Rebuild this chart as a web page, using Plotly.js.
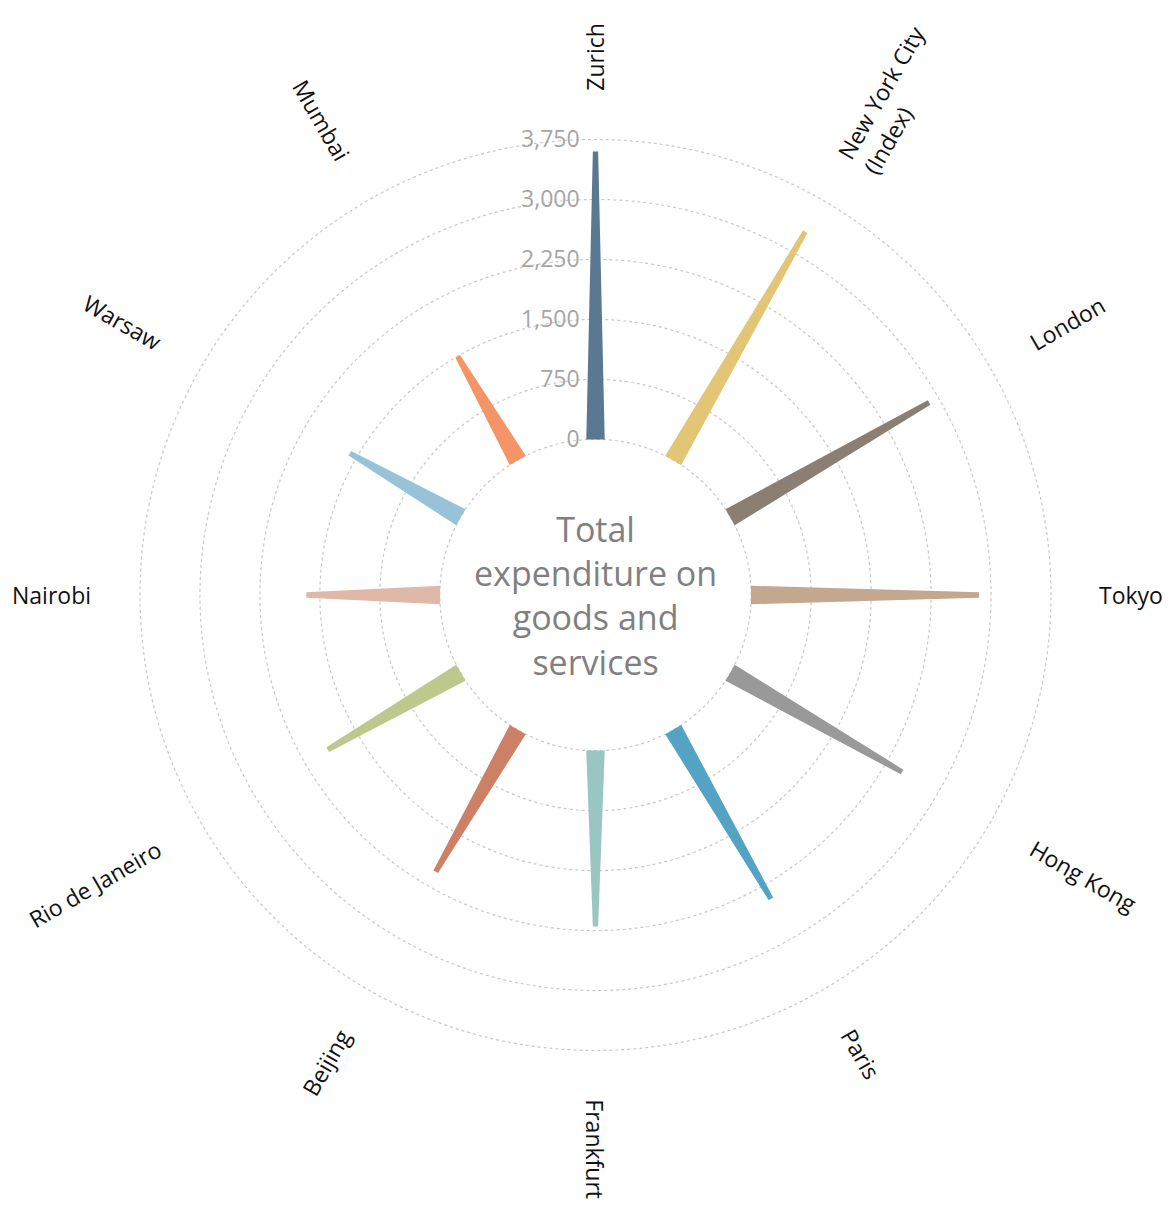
<!DOCTYPE html>
<html><head><meta charset="utf-8">
<script src="https://cdn.plot.ly/plotly-3.0.1.min.js"></script>
<style>html,body{margin:0;padding:0;background:#fff;}#chart{width:1171px;height:1207px;}</style>
</head><body><div id="chart"></div>
<script>
// ---- data ----
const cities = ["Zurich", "New York City<br>(Index)", "London", "Tokyo", "Hong Kong", "Paris",
                "Frankfurt", "Beijing", "Rio de Janeiro", "Nairobi", "Warsaw", "Mumbai"];
const values = [3600, 3300, 2870, 2850, 2480, 2440, 2200, 2050, 1920, 1670, 1600, 1500];
const colors = ["#5b7892", "#e2c675", "#8b7f74", "#c4a78f", "#999999", "#55a3c4",
                "#9ac6c2", "#cc8066", "#bcc88c", "#e0b8a8", "#98c2d8", "#f59466"];
const radialTicks = [0, 750, 1500, 2250, 3000, 3750];
const radialTickText = ["0", "750", "1,500", "2,250", "3,000", "3,750"];
const centerTitle = "Total<br>expenditure on<br>goods and<br>services";

// ---- layout geometry ----
const W = 1171, H = 1207;
const M = {l: 138, r: 118, t: 137, b: 154};
const pw = W - M.l - M.r, ph = H - M.t - M.b;
const R = Math.min(pw, ph) / 2;
const cx = M.l + pw / 2, cy = M.t + ph / 2;
const rMin = -25, rMax = 3775;
const hole = 0.336;
const FONT = "Open Sans";

function rPx(v) { return hole * R + (v - rMin) / (rMax - rMin) * (1 - hole) * R; }

const step = 360 / cities.length;
const baseHalf = 3.4;          // degrees at the inner end
const tipHalfPx = 2.65;        // px half width at the outer end

const traces = cities.map((c, i) => {
  const th = i * step;
  const v = values[i];
  const tipHalf = (tipHalfPx / rPx(v)) * 180 / Math.PI;
  return {
    type: "scatterpolar",
    mode: "lines",
    r: [0, v, v, 0, 0],
    theta: [th - baseHalf, th - tipHalf, th + tipHalf, th + baseHalf, th - baseHalf],
    thetaunit: "degrees",
    fill: "toself",
    fillcolor: colors[i],
    line: {color: colors[i], width: 0},
    name: c.replace("<br>", " "),
    hoverinfo: "skip",
    showlegend: false
  };
});

// ---- city labels as rotated annotations ----
const canvas = document.createElement("canvas");
const ctx = canvas.getContext("2d");
const labelSize = 23;
ctx.font = labelSize + "px '" + FONT + "'";
const r0 = 504;
const annotations = cities.map((c, i) => {
  const phi = 90 - i * step;             // math angle
  let phiN = ((phi + 180) % 360 + 360) % 360 - 180;   // -180..180
  const lines = c.split("<br>");
  const tw = Math.max(...lines.map(s => ctx.measureText(s).width));
  const rc = r0 + tw / 2;
  const rad = phi * Math.PI / 180;
  let px = cx + rc * Math.cos(rad), py = cy - rc * Math.sin(rad);
  let ang;
  if (phiN >= -90 && phiN <= 90) ang = -phiN; else ang = 180 - ((phi % 360) + 360) % 360;
  if (phiN === -90) ang = 90;
  // multi-line labels: first line sits close to the radial line
  const shift = (lines.length - 1) * labelSize * 1.3 * 0.35;
  const a = ang * Math.PI / 180;           // screen rotation (clockwise)
  px += -Math.sin(a) * shift;              // text-frame "down" direction
  py += Math.cos(a) * shift;
  return {
    xref: "paper", yref: "paper",
    x: (px - M.l) / pw, y: 1 - (py - M.t) / ph,
    xanchor: "center", yanchor: "middle",
    text: c, showarrow: false, textangle: ang, align: "left",
    font: {family: FONT, size: labelSize, color: "#111111"}
  };
});
annotations.push({
  xref: "paper", yref: "paper", x: 0.5, y: 0.5, xanchor: "center", yanchor: "middle",
  text: centerTitle, showarrow: false, align: "center",
  font: {family: FONT, size: 34, color: "#808080"}
});

const layout = {
  width: W, height: H,
  margin: M,
  paper_bgcolor: "#ffffff",
  showlegend: false,
  font: {family: FONT},
  polar: {
    bgcolor: "rgba(0,0,0,0)",
    hole: hole,
    radialaxis: {
      range: [rMin, rMax],
      angle: 90,
      side: "counterclockwise",
      tickangle: 90,
      tickvals: radialTicks,
      ticktext: radialTickText.map(t => t + "\u00a0\u00a0"),
      tickfont: {family: FONT, size: 23, color: "#a6a6a6"},
      showline: false,
      ticks: "",
      gridcolor: "#c8c8c8",
      griddash: "dot",
      gridwidth: 1.2
    },
    angularaxis: {
      rotation: 90,
      direction: "clockwise",
      showgrid: false,
      showline: false,
      showticklabels: false,
      ticks: ""
    }
  },
  annotations: annotations
};

Plotly.newPlot("chart", traces, layout, {displayModeBar: false, staticPlot: true});
</script>
</body></html>
